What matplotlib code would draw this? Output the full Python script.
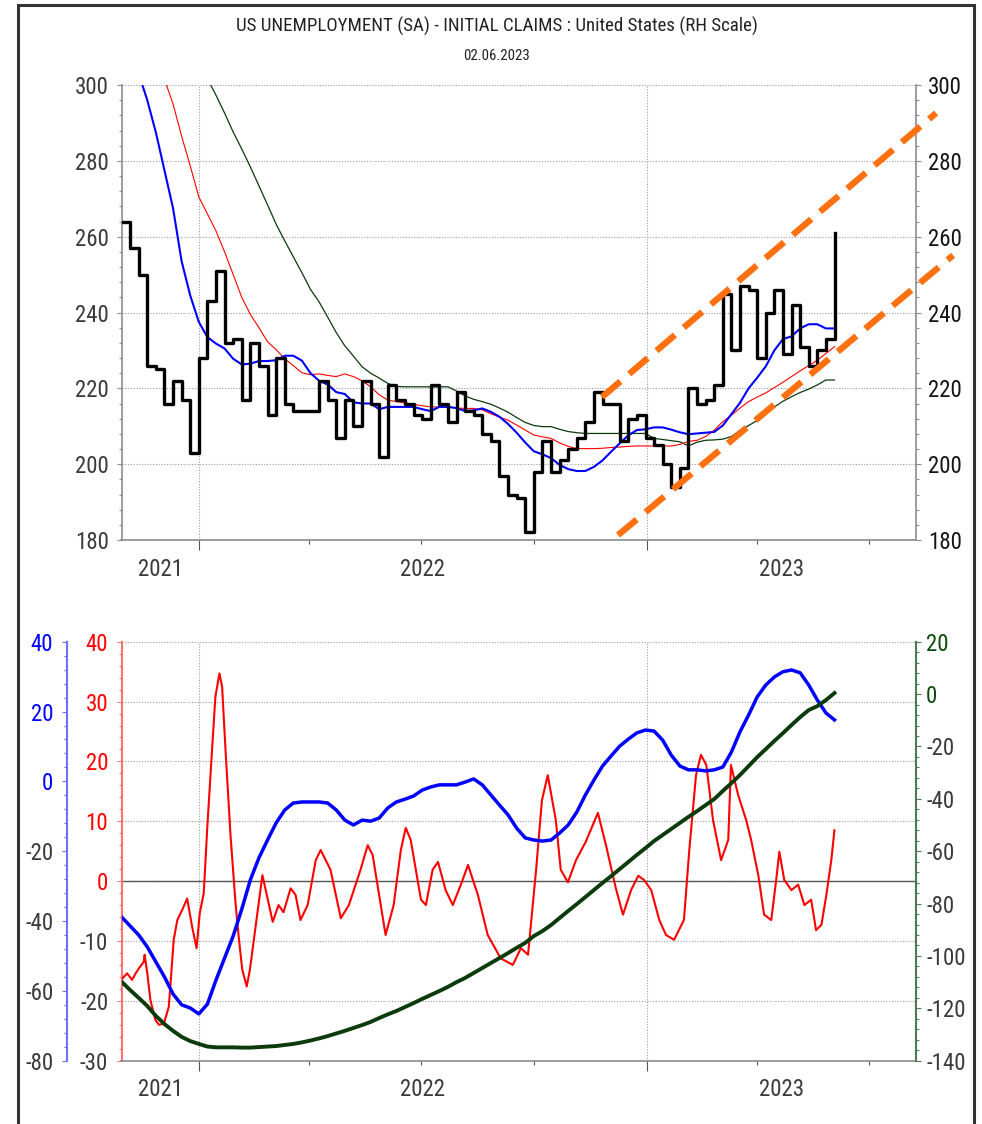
import os
import numpy as np
import pandas as pd
import matplotlib
matplotlib.use("Agg")
import matplotlib.pyplot as plt
from matplotlib import font_manager as fm
from matplotlib.ticker import MultipleLocator
from matplotlib.patches import Rectangle


# ---------------------------------------------------------------- fonts
def pick_narrow_font():
    """Return (family, stretch, is_narrow) for the narrowest regular sans face found."""
    entries = [f for f in fm.fontManager.ttflist
               if f.style == "normal" and str(f.weight) in ("400", "normal", "regular", "book")]
    prefs = ["Liberation Sans Narrow", "Arial Narrow", "Roboto Condensed",
             "Noto Sans Condensed", "Open Sans Condensed", "DejaVu Sans Condensed"]
    for p in prefs:
        for f in entries:
            if f.name == p:
                return f.name, f.stretch, True
    for f in entries:
        base = os.path.basename(f.fname)
        if ("Condensed" in base or "Narrow" in base) and "Serif" not in base and "Mono" not in base \
                and "Semi" not in base and "Extra" not in base:
            return f.name, f.stretch, True
    for f in entries:
        if f.stretch in ("condensed", "semi-condensed") and "Serif" not in f.name \
                and "Mono" not in f.name:
            return f.name, f.stretch, True
    names = {f.name for f in entries}
    return ("Liberation Sans" if "Liberation Sans" in names else "DejaVu Sans"), "normal", False


FONT, STRETCH, NARROW = pick_narrow_font()
plt.rcParams["font.family"] = [FONT, "DejaVu Sans"]
plt.rcParams["font.stretch"] = STRETCH
plt.rcParams["axes.unicode_minus"] = False

# ---------------------------------------------------------------- text
TITLE = "US UNEMPLOYMENT (SA) - INITIAL CLAIMS : United States (RH Scale)"
SUBTITLE = "02.06.2023"
YEAR_LABELS = ["2021", "2022", "2023"]

# ---------------------------------------------------------------- data
last_week = "2023-06-03"
view_end = "2023-08-08"

# weekly initial claims (thousands)
claims = [264, 257, 250, 226, 225, 216, 222, 217, 203, 228,
          243, 251, 232, 233, 217, 232, 226, 213, 228, 216,
          214, 214, 214, 222, 217, 207, 217, 210, 222, 216,
          202, 221, 217, 216, 213, 212, 221, 216, 211, 219,
          214, 213, 208, 206, 197, 192, 191, 182, 198, 206,
          198, 201, 204, 207, 211, 219, 216, 216, 206, 212,
          213, 207, 205, 200, 194, 199, 220, 216, 217, 221,
          245, 230, 247, 246, 228, 240, 246, 229, 242, 231,
          226, 230, 233, 261]

# moving averages of claims
ma_short = [320, 312, 303, 296, 287.5, 277.5, 267.5, 253.5, 244.5, 237.5,
            233.5, 231.8, 230.5, 227.8, 226.3, 226.5, 227.2, 227.2, 227.4, 228.6,
            228.6, 227.3, 224, 222, 221, 219, 218.5, 216.3, 216, 216,
            214.5, 215.1, 215.1, 215.1, 215.1, 214.5, 214, 215.1, 215.1, 214.8,
            214, 214.2, 214.7, 213.8, 212.5, 210.6, 208.3, 205.7, 203.4, 202.6,
            201.6, 199.8, 198.7, 198.2, 198.2, 199.3, 201, 203.3, 205.5, 207.6,
            209, 209.2, 209.7, 209.7, 209.1, 208.4, 207.9, 208.1, 208.3, 208.5,
            210.2, 213.2, 216.2, 220, 222.8, 225.8, 230, 233, 233.7, 235.8,
            236.9, 236.9, 235.8, 235.8]
ma_mid = [331, 325, 319, 313, 307, 301.5, 295, 286.5, 278.7, 270.5,
          266, 261.5, 256, 250, 244, 239.5, 236, 232.3, 230.2, 227.8,
          226, 224.1, 223.6, 223.8, 223.4, 223.1, 223.8, 223.1, 222, 220.4,
          218.3, 216.9, 216.5, 216.1, 215.8, 215.4, 215.1, 215.1, 215.1, 214.8,
          214.7, 214.7, 214.3, 213.3, 212.4, 211.6, 210.3, 209, 207.7, 207.2,
          206.8, 205.6, 204.7, 204.1, 204.1, 204.1, 204.2, 204.4, 204.5, 204.7,
          204.8, 204.8, 204.8, 204.8, 204.8, 205.2, 206, 206.3, 207.3, 209,
          211.2, 212.9, 214.8, 216.5, 217.7, 218.8, 220.2, 221.6, 223.1, 224.6,
          226, 227.4, 229.2, 231]
ma_long = [347, 342.5, 338, 333.5, 329, 324.5, 320, 315.5, 311, 306.4,
           301.7, 297.3, 292.6, 287.6, 283.1, 278.4, 273.4, 268.4, 263.3, 258.9,
           254.7, 250.5, 246.1, 242.8, 238.8, 234.7, 231.2, 228.5, 225.7, 224,
           222.7, 221.3, 220.5, 220.4, 220.4, 220.4, 220.4, 220.4, 220.4, 219.3,
           218, 217.1, 216.5, 215.8, 214.8, 213.7, 212.3, 211, 210.2, 209.9,
           209.9, 209.2, 208.6, 208.3, 208.1, 208.1, 208.1, 208.1, 208.1, 208.1,
           208.1, 208.1, 206.8, 206.5, 206.2, 205.9, 204.8, 205.8, 206.3, 206.4,
           206.6, 207.3, 208.9, 210.2, 211.5, 213.4, 215.1, 216.6, 217.8, 218.9,
           219.8, 220.9, 222.2, 222.2]

# trend channel (decimal year, claims)
channel_upper_t = [2022.900, 2023.646]
channel_upper = [217.7, 292.6]
channel_lower_t = [2022.936, 2023.684]
channel_lower = [181.3, 255.1]

# oscillators (lower panel)
osc_blue = [-38.8, -41.4, -44.0, -47.4, -51.7, -56.0, -60.9, -64.0, -64.9, -66.6,
            -63.8, -56.9, -50.6, -44.3, -36.6, -28.2, -21.9, -16.8, -11.9, -8.2,
            -6.2, -5.9, -5.9, -5.9, -6.2, -8.2, -11.1, -12.5, -11.1, -11.4,
            -10.5, -7.6, -5.9, -5.1, -4.2, -2.5, -1.6, -1.0, -1.0, -1.0,
            -0.2, 0.7, -1.0, -3.9, -6.8, -9.6, -13.4, -16.2, -16.8, -17.1,
            -16.8, -14.8, -12.5, -8.8, -3.9, 0.4, 4.4, 7.3, 10.1, 12.1,
            13.9, 14.7, 14.4, 11.8, 7.5, 4.4, 3.3, 3.3, 3.0, 3.3,
            4.1, 8.4, 14.2, 19.0, 24.2, 27.6, 29.9, 31.4, 31.9, 31.1,
            27.6, 23.3, 19.6, 17.6]
osc_green = [-109.8, -113.0, -116.0, -119.1, -122.9, -126.0, -128.6, -130.9, -132.5, -133.6,
             -134.6, -134.9, -134.9, -134.9, -135.0, -135.0, -134.8, -134.6, -134.4, -134.0,
             -133.6, -133.0, -132.3, -131.5, -130.6, -129.6, -128.6, -127.5, -126.4, -125.2,
             -123.7, -122.3, -121.0, -119.5, -118.0, -116.4, -114.9, -113.4, -111.8, -110.0,
             -108.4, -106.5, -104.6, -102.7, -100.8, -98.9, -96.9, -95.0, -92.4, -90.5,
             -88.2, -85.5, -82.8, -80.2, -77.5, -74.8, -72.1, -69.5, -66.8, -64.1,
             -61.4, -58.8, -56.1, -53.8, -51.5, -49.2, -46.9, -44.7, -42.4, -40.1,
             -37.0, -34.0, -30.9, -27.5, -24.1, -21.0, -17.9, -14.9, -11.8, -8.8,
             -6.1, -4.6, -2.3, 0.4]
osc_red_t = [2021.830, 2021.840, 2021.851, 2021.859, 2021.866, 2021.877, 2021.879, 2021.885,
             2021.892, 2021.903, 2021.911, 2021.922, 2021.933, 2021.944, 2021.952, 2021.963,
             2021.974, 2021.985, 2021.995, 2022.002, 2022.011, 2022.019, 2022.030, 2022.037,
             2022.046, 2022.052, 2022.060, 2022.071, 2022.082, 2022.089, 2022.097, 2022.107,
             2022.114,
             2022.142, 2022.165, 2022.178, 2022.189, 2022.205, 2022.216, 2022.227, 2022.243,
             2022.261, 2022.272,
             2022.294, 2022.317, 2022.335, 2022.361, 2022.377, 2022.388, 2022.417, 2022.435,
             2022.451, 2022.462,
             2022.473, 2022.496, 2022.507, 2022.522, 2022.534, 2022.551, 2022.567, 2022.585,
             2022.601, 2022.623,
             2022.645, 2022.674, 2022.701, 2022.719, 2022.735, 2022.753, 2022.766, 2022.779,
             2022.797, 2022.808,
             2022.824, 2022.842, 2022.864, 2022.891, 2022.909, 2022.931, 2022.947, 2022.965,
             2022.981, 2022.994,
             2023.010, 2023.028, 2023.043, 2023.061, 2023.083, 2023.095, 2023.110, 2023.121,
             2023.133, 2023.148,
             2023.166, 2023.182, 2023.188, 2023.204, 2023.222, 2023.233, 2023.249, 2023.262,
             2023.278, 2023.289,
             2023.296, 2023.307, 2023.323, 2023.338, 2023.352, 2023.367, 2023.378, 2023.390,
             2023.401, 2023.412,
             2023.419]
osc_red = [-16.2, -15.4, -16.5, -15.4, -14.6, -13.5, -12.3, -15.4,
           -19.9, -23.2, -24.0, -23.8, -21.0, -9.8, -6.5, -4.8,
           -2.9, -7.6, -11.2, -5.4, -2.0, 9.1, 22.5, 30.8,
           34.7, 32.5, 21.4, 7.4, -3.7, -9.3, -14.8, -17.6,
           -14.8,
           1.0, -6.8, -4.0, -5.2, -1.2, -2.3, -6.5, -4.0, 3.5, 5.2,
           1.9, -6.2, -4.0, 1.9, 6.0, 4.4, -9.0, -4.0, 5.2, 8.9,
           6.9, -3.1, -4.0, 1.9, 3.2, -1.5, -4.0, -0.6, 2.7, -2.3,
           -9.0, -12.9, -14.0, -11.2, -12.3, 1.9, 13.5, 17.7, 10.2, 1.9,
           -0.2, 3.5, 6.6, 11.4, 6.0, -1.2, -5.6, -1.5, 0.9, 0.2,
           -1.5, -6.5, -9.0, -9.8, -6.5, 5.2, 17.7, 21.1, 19.4, 10.2,
           3.5, 6.9, 19.4, 14.4, 10.2, 6.9, 1.0, -5.6, -6.5, 0.2,
           4.9, 0.2, -1.5, -0.6, -4.0, -3.1, -8.2, -7.3, -2.3, 3.5,
           8.5]

# ---------------------------------------------------------------- style
BLACK = "#000000"
BLUE = "#0000ff"
RED = "#ff0000"
DKGREEN = "#0b3a0b"
ORANGE = "#ff7010"
GRID = "#9a9a9a"
AXIS_GREY = "#8c8c8c"
LABEL_DARK = "#3a3a3a"
TICK_FS = 16.5 if NARROW else 15
W, H = 982, 1124


def decimal_year(dates):
    d = pd.DatetimeIndex(pd.to_datetime(dates))
    days = np.where(d.is_leap_year, 366.0, 365.0)
    return np.asarray(d.year + (d.dayofyear - 1) / days, dtype=float)


weeks = pd.date_range(end=last_week, periods=len(claims), freq="7D")
tw = decimal_year(weeks)
x0 = tw[0]
x1 = decimal_year([view_end])[0]

quarters = decimal_year(pd.date_range("2021-01-01", "2024-01-01", freq="QS"))
quarters = quarters[(quarters >= x0) & (quarters <= x1)]
years = quarters[np.isclose(quarters, np.round(quarters))]
bounds = np.concatenate([[x0], years, [x1]])
year_centres = (bounds[:-1] + bounds[1:]) / 2

fig = plt.figure(figsize=(W / 100, H / 100), dpi=100)
renderer = fig.canvas.get_renderer()


def px_axes(l, t, r, b):
    return fig.add_axes([l / W, 1 - b / H, (r - l) / W, (b - t) / H])


def fitted_size(text, width_px, base=14.0):
    probe = fig.text(0, 0, text, fontsize=base)
    w = probe.get_window_extent(renderer).width
    probe.remove()
    return base * width_px / w


def style_time_axis(ax):
    ax.set_xlim(x0, x1)
    ax.set_xticks(years)
    ax.set_xticks(quarters, minor=True)
    ax.tick_params(axis="x", which="major", direction="out", length=7, width=0.8,
                   color="#555555", labelbottom=False)
    ax.tick_params(axis="x", which="minor", direction="out", length=2.8, width=0.8,
                   color="#555555")
    ax.grid(axis="x", which="major", color=GRID, lw=0.8, ls=(0, (1, 1.5)))
    for lab, xc in zip(YEAR_LABELS, year_centres):
        ax.annotate(lab, xy=(xc, 0), xycoords=("data", "axes fraction"),
                    xytext=(0, -21), textcoords="offset points",
                    ha="center", va="center", fontsize=TICK_FS, color=LABEL_DARK)


def colour_labels(axis, values, pos_colour, neg_colour=LABEL_DARK):
    for tick, v in zip(axis.get_major_ticks(), values):
        c = pos_colour if v >= 0 else neg_colour
        tick.label1.set_color(c)
        tick.label2.set_color(c)


# ================================================================ top panel
ax = px_axes(121.5, 85, 915.5, 540)
ax.plot(tw, ma_long, color=DKGREEN, lw=0.9, zorder=3)
ax.plot(tw, ma_mid, color=RED, lw=0.8, zorder=3)
ax.plot(tw, ma_short, color=BLUE, lw=1.5, zorder=4)
ax.plot(tw, claims, color=BLACK, lw=2.4, drawstyle="steps-post", zorder=5)
for ct, cv in [(channel_upper_t, channel_upper), (channel_lower_t, channel_lower)]:
    ax.plot(ct, cv, color=ORANGE, lw=4.6, dashes=(3.8, 1.8), dash_capstyle="butt",
            clip_on=False, zorder=6)

ax.set_ylim(180, 300)
top_ticks = list(range(180, 301, 20))
ax.set_yticks(top_ticks)
ax.yaxis.set_minor_locator(MultipleLocator(4))
ax.tick_params(axis="y", which="both", left=True, right=True, labelleft=True,
               labelright=True, direction="out", color=AXIS_GREY, width=0.8)
ax.tick_params(axis="y", which="major", length=3.6, labelsize=TICK_FS, pad=5.5)
ax.tick_params(axis="y", which="minor", length=2.2)
ax.grid(axis="y", which="major", color=GRID, lw=0.8, ls=(0, (1, 1.5)))
ax.spines["top"].set_visible(False)
for s in ("left", "right", "bottom"):
    ax.spines[s].set_color(AXIS_GREY)
    ax.spines[s].set_linewidth(1.2)
style_time_axis(ax)

# ================================================================ lower panel
axr = px_axes(121.5, 641.7, 915.5, 1060.7)
axb = axr.twinx()
axg = axr.twinx()

axr.plot(osc_red_t, osc_red, color=RED, lw=1.5, zorder=3)
axb.plot(tw, osc_blue, color=BLUE, lw=2.5, zorder=3)
axg.plot(tw, osc_green, color=DKGREEN, lw=2.8, zorder=3)

# red scale (inner left)
axr.set_ylim(-30, 40)
red_ticks = list(range(-30, 41, 10))
axr.set_yticks(red_ticks)
axr.yaxis.set_minor_locator(MultipleLocator(2))
axr.yaxis.tick_left()
axr.tick_params(axis="y", which="both", direction="out", color="#ff7070", width=0.8)
axr.tick_params(axis="y", which="major", length=3.6, labelsize=TICK_FS, pad=6)
axr.tick_params(axis="y", which="minor", length=2.2)
axr.grid(axis="y", which="major", color=GRID, lw=0.8, ls=(0, (1, 1.5)))
axr.axhline(0, color="#555555", lw=1.0, zorder=2)
axr.spines["top"].set_visible(False)
axr.spines["right"].set_visible(False)
axr.spines["left"].set_color("#ff7070")
axr.spines["left"].set_linewidth(1.5)
axr.spines["bottom"].set_color(AXIS_GREY)
axr.spines["bottom"].set_linewidth(1.2)
style_time_axis(axr)

# blue scale (outer left)
for s in ("top", "right", "bottom"):
    axb.spines[s].set_visible(False)
axb.spines["left"].set_visible(True)
axb.spines["left"].set_position(("outward", 39.5))
axb.spines["left"].set_color("#7070ff")
axb.spines["left"].set_linewidth(1.5)
axb.set_ylim(-80, 40)
blue_ticks = list(range(-80, 41, 20))
axb.yaxis.set_ticks_position("left")
axb.yaxis.set_label_position("left")
axb.set_yticks(blue_ticks)
axb.yaxis.set_minor_locator(MultipleLocator(4))
axb.tick_params(axis="y", which="both", direction="out", color="#7070ff", width=0.8)
axb.tick_params(axis="y", which="major", length=3.6, labelsize=TICK_FS, pad=6)
axb.tick_params(axis="y", which="minor", length=2.2)

# green scale (right)
for s in ("top", "left", "bottom"):
    axg.spines[s].set_visible(False)
axg.spines["right"].set_color("#4d7a4d")
axg.spines["right"].set_linewidth(1.5)
axg.set_ylim(-140, 20)
green_ticks = list(range(-140, 21, 20))
axg.set_yticks(green_ticks)
axg.yaxis.set_minor_locator(MultipleLocator(4))
axg.tick_params(axis="y", which="both", direction="out", color="#4d7a4d", width=0.8)
axg.tick_params(axis="y", which="major", length=3.6, labelsize=TICK_FS, pad=4)
axg.tick_params(axis="y", which="minor", length=2.2)

# tick label colours (set last, after every spine/tick reset)
for tick in ax.yaxis.get_major_ticks():
    tick.label1.set_color(LABEL_DARK)
    tick.label2.set_color("#151515")
colour_labels(axr.yaxis, red_ticks, RED)
colour_labels(axb.yaxis, blue_ticks, BLUE)
colour_labels(axg.yaxis, green_ticks, "#0b4a0b")

# ================================================================ titles & frame
fig.text(496.5 / W, 1 - 26 / H, TITLE, ha="center", va="center",
         fontsize=fitted_size(TITLE, 523), color="#222222")
fig.text(496.5 / W, 1 - 56 / H, SUBTITLE, ha="center", va="center",
         fontsize=fitted_size(SUBTITLE, 67), color="#222222")
fig.add_artist(Rectangle((18 / W, -0.02), (974 - 18) / W, 1.02 - 5 / H,
                         transform=fig.transFigure, fill=False, lw=2.2,
                         ec="#333333"))

fig.savefig("out.png", dpi=100)
